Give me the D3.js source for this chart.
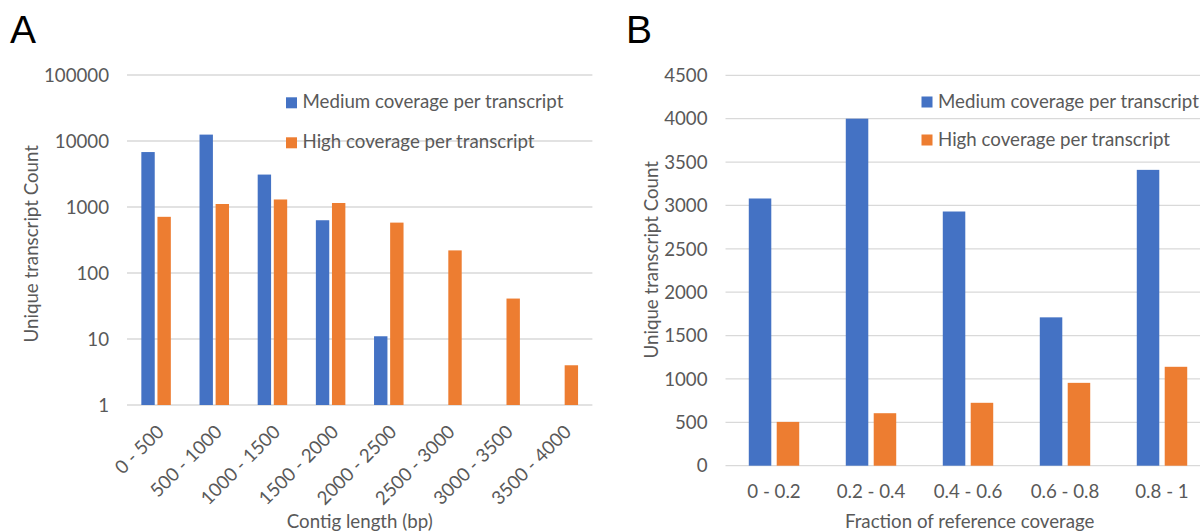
<!DOCTYPE html>
<html>
<head>
<meta charset="utf-8">
<script src="https://cdn.jsdelivr.net/npm/d3@7"></script>
<style>
  html, body { margin: 0; padding: 0; background: #fff; }
  svg { display: block; }
  text { font-family: Lato, "Open Sans", sans-serif; fill: #595959; }
</style>
</head>
<body>
<svg id="chart" width="1200" height="531"></svg>
<script>
// Panel A: transcripts by contig length (log scale)
const lengthBins = ["0 - 500", "500 - 1000", "1000 - 1500", "1500 - 2000",
                    "2000 - 2500", "2500 - 3000", "3000 - 3500", "3500 - 4000"];
const mediumByLength = [6800, 12500, 3100, 630, 11, 0, 0, 0];
const highByLength   = [710, 1110, 1300, 1150, 580, 220, 41, 4];
const logTicks = [1, 10, 100, 1000, 10000, 100000];

// Panel B: transcripts by fraction of reference coverage
const coverageBins = ["0 - 0.2", "0.2 - 0.4", "0.4 - 0.6", "0.6 - 0.8", "0.8 - 1"];
const mediumByCoverage = [3080, 4000, 2930, 1710, 3410];
const highByCoverage   = [505, 605, 725, 955, 1140];
const linearTicks = [0, 500, 1000, 1500, 2000, 2500, 3000, 3500, 4000, 4500];

const seriesNames = ["Medium coverage per transcript", "High coverage per transcript"];
const seriesColors = ["#4472C4", "#ED7D31"];

const svg = d3.select("#chart");
const gridColor = "#D9D9D9";
const fs = "18.7px";

function drawPanel(cfg) {
  const g = svg.append("g");
  const x = d3.scaleBand().domain(cfg.categories).range([cfg.left, cfg.right]).padding(0);
  const y = cfg.y;

  // horizontal gridlines
  g.selectAll("line.grid").data(cfg.ticks).join("line")
    .attr("x1", cfg.left).attr("x2", cfg.gridRight)
    .attr("y1", d => y(d)).attr("y2", d => y(d))
    .attr("stroke", gridColor).attr("stroke-width", 1.3);

  // y tick labels
  g.selectAll("text.ytick").data(cfg.ticks).join("text")
    .attr("x", cfg.left - 18).attr("y", d => y(d)).attr("dy", "0.36em")
    .attr("text-anchor", "end").style("font-size", fs)
    .text(d => d3.format("d")(d));

  // grouped bars
  const groupW = x.bandwidth() * cfg.groupRatio;
  const rows = cfg.categories.map((c, i) => ({ cat: c, values: [cfg.series[0][i], cfg.series[1][i]] }));
  const grp = g.selectAll("g.cat").data(rows).join("g")
    .attr("transform", d => `translate(${x(d.cat) + x.bandwidth() / 2 - groupW / 2},0)`);
  const x1 = d3.scaleBand().domain([0, 1]).range([0, groupW]).paddingInner(cfg.innerPad).paddingOuter(0);
  grp.selectAll("rect").data(d => d.values.map((v, k) => ({ v, k })).filter(e => cfg.valid(e.v))).join("rect")
    .attr("x", e => x1(e.k)).attr("width", x1.bandwidth())
    .attr("y", e => y(e.v)).attr("height", e => y(cfg.base) - y(e.v))
    .attr("fill", e => seriesColors[e.k]);

  // category labels
  const lab = g.selectAll("text.xtick").data(cfg.categories).join("text")
    .style("font-size", fs);
  if (cfg.rotate) {
    lab.attr("text-anchor", "end")
      .attr("transform", d => `translate(${x(d) + x.bandwidth() / 2 + 9},${y(cfg.base) + 28}) rotate(-45)`)
      .text(d => d);
  } else {
    lab.attr("text-anchor", "middle")
      .attr("x", d => x(d) + x.bandwidth() / 2).attr("y", y(cfg.base) + 26).attr("dy", "0.36em")
      .text(d => d);
  }

  // axis titles
  g.append("text").attr("text-anchor", "middle")
    .attr("x", cfg.xTitlePos[0]).attr("y", cfg.xTitlePos[1]).attr("dy", "0.36em")
    .style("font-size", fs).text(cfg.xTitle);
  g.append("text").attr("text-anchor", "middle")
    .attr("transform", `translate(${cfg.yTitlePos[0]},${cfg.yTitlePos[1]}) rotate(-90)`)
    .attr("dy", "0.36em").style("font-size", fs).text("Unique transcript Count");

  // legend
  const leg = g.selectAll("g.leg").data(seriesNames).join("g")
    .attr("transform", (d, i) => `translate(${cfg.legendPos[0]},${cfg.legendPos[1] + i * cfg.legendStep})`);
  leg.append("rect").attr("x", 0).attr("y", -11).attr("width", 11).attr("height", 11)
    .attr("fill", (d, i) => seriesColors[i]);
  leg.append("text").attr("x", 16.5).attr("y", 0).style("font-size", fs).text(d => d);

  // panel letter
  svg.append("text").attr("x", cfg.letterPos[0]).attr("y", cfg.letterPos[1])
    .style("font-family", "'Liberation Sans', Arial, sans-serif").style("font-size", "39px")
    .style("fill", "#000").text(cfg.letter);
}

drawPanel({
  letter: "A", letterPos: [10, 43],
  categories: lengthBins, series: [mediumByLength, highByLength],
  left: 127, right: 592.4, gridRight: 592.4,
  y: d3.scaleLog().domain([1, 100000]).range([405, 75]),
  ticks: logTicks, base: 1, valid: v => v > 0,
  groupRatio: 0.507, innerPad: 0.168, rotate: true,
  xTitle: "Contig length (bp)", xTitlePos: [359.7, 521.7],
  yTitlePos: [31, 243.7],
  legendPos: [286, 108.3], legendStep: 40
});

drawPanel({
  letter: "B", letterPos: [626, 43],
  categories: coverageBins, series: [mediumByCoverage, highByCoverage],
  left: 725.5, right: 1210.5, gridRight: 1210.5,
  y: d3.scaleLinear().domain([0, 4500]).range([465.7, 75.3]),
  ticks: linearTicks, base: 0, valid: v => v != null,
  groupRatio: 0.52, innerPad: 0.194, rotate: false,
  xTitle: "Fraction of reference coverage", xTitlePos: [969.7, 521],
  yTitlePos: [651, 259.7],
  legendPos: [921.5, 107.5], legendStep: 38
});
</script>
</body>
</html>
